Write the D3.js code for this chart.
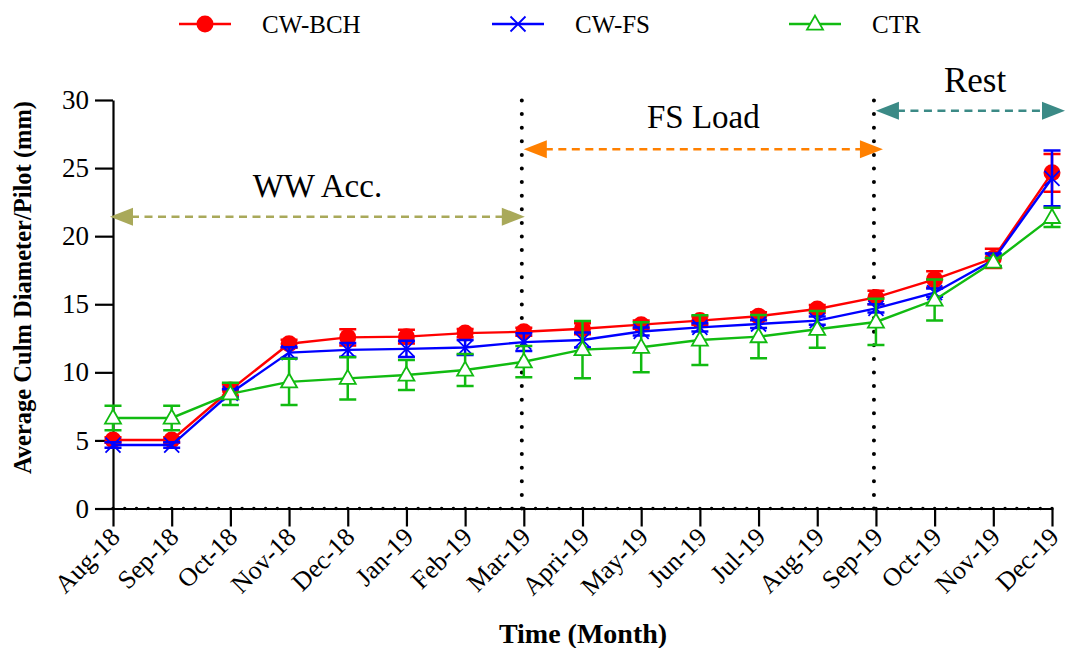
<!DOCTYPE html>
<html>
<head>
<meta charset="utf-8">
<script src="https://cdn.jsdelivr.net/npm/d3@7"></script>
<style>
  html, body { margin: 0; padding: 0; background: #fff; }
  svg { display: block; }
  svg text { font-family: "Liberation Serif", "Times New Roman", Tinos, "Nimbus Roman", "DejaVu Serif", serif; }
</style>
</head>
<body>
<svg id="chart" width="1065" height="648"></svg>
<script>
// Monthly sampling dates
const months = ["Aug-18","Sep-18","Oct-18","Nov-18","Dec-18","Jan-19","Feb-19","Mar-19",
  "Apri-19","May-19","Jun-19","Jul-19","Aug-19","Sep-19","Oct-19","Nov-19","Dec-19"];

// Average culm diameter per pilot (mm) and standard deviation
const cwBch    = [5.03, 5.03, 8.70, 12.10, 12.57, 12.62, 12.88, 12.98, 13.20, 13.50, 13.80, 14.12, 14.65, 15.50, 16.83, 18.37, 24.65];
const cwBchErr = [0.20, 0.20, 0.40, 0.30, 0.60, 0.50, 0.30, 0.30, 0.40, 0.30, 0.30, 0.30, 0.30, 0.50, 0.60, 0.70, 1.38];
const cwFs     = [4.66, 4.66, 8.46, 11.45, 11.65, 11.72, 11.82, 12.22, 12.37, 13.00, 13.30, 13.55, 13.80, 14.70, 15.85, 18.25, 24.25];
const cwFsErr  = [0.20, 0.20, 0.30, 0.40, 0.50, 0.60, 0.55, 0.65, 0.55, 0.30, 0.30, 0.30, 0.30, 0.30, 0.30, 0.47, 2.05];
const ctr      = [6.65, 6.65, 8.42, 9.30, 9.56, 9.80, 10.17, 10.78, 11.67, 11.84, 12.37, 12.62, 13.16, 13.70, 15.31, 18.10, 21.38];
const ctrErr   = [0.90, 0.90, 0.82, 1.70, 1.55, 1.10, 1.17, 1.15, 2.10, 1.84, 1.83, 1.59, 1.35, 1.70, 1.50, 0.30, 0.70];

const yTicks = [0, 5, 10, 15, 20, 25, 30];

// Experimental phases: start/end month, arrow level and label level (mm units)
const phaseNames  = ["WW Acc.", "FS Load", "Rest"];
const phaseStart  = ["Aug-18", "Mar-19", "Sep-19"];
const phaseEnd    = ["Mar-19", "Sep-19", null];
const phaseArrowY = [21.43, 26.38, 29.21];
const phaseLabelY = [22.9, 27.92, 30.6];
const phaseColors = ["#a9a95a", "#ff8000", "#3b8a86"];
const phaseBounds = ["Mar-19", "Sep-19"];

const W = 1065, H = 648;
const svg = d3.select("#chart");

const x = d3.scalePoint().domain(months).range([113, 1052]);
const y = d3.scaleLinear().domain([0, 30]).range([508.5, 100]);

const series = [
  { name: "CW-BCH", values: cwBch, err: cwBchErr, color: "#ff0000", symbol: "circle" },
  { name: "CW-FS",  values: cwFs,  err: cwFsErr,  color: "#0000ff", symbol: "cross" },
  { name: "CTR",    values: ctr,   err: ctrErr,   color: "#11bb11", symbol: "triangle" }
];

// Phase boundaries (dotted verticals)
svg.append("g").selectAll("line").data(phaseBounds).join("line")
  .attr("x1", d => x(d) - 2).attr("x2", d => x(d) - 2)
  .attr("y1", y(0)).attr("y2", y(30))
  .attr("stroke", "#000").attr("stroke-width", 4)
  .attr("stroke-linecap", "round").attr("stroke-dasharray", "0,13.6");

// Axes
const yAxis = svg.append("g").attr("transform", `translate(${x(months[0])},0)`)
  .call(d3.axisLeft(y).tickValues(yTicks).tickSize(18).tickSizeOuter(0).tickPadding(6));
yAxis.attr("font-family", null);
yAxis.selectAll("text").attr("font-size", 27).attr("fill", "#000");
yAxis.selectAll("line, path").attr("stroke", "#000").attr("stroke-width", 2.2);

const xAxis = svg.append("g").attr("transform", `translate(0,${y(0)})`)
  .call(d3.axisBottom(x).tickSize(18).tickSizeOuter(0));
xAxis.attr("font-family", null);
xAxis.select(".domain").attr("stroke", "#000").attr("stroke-width", 2.2);
xAxis.selectAll("line").attr("stroke", "#000").attr("stroke-width", 2.2);
xAxis.selectAll("text")
  .attr("font-size", 26).attr("fill", "#000")
  .attr("text-anchor", "end").attr("dy", null)
  .attr("transform", "translate(8,30) rotate(-45)")
  .attr("y", 0).attr("x", 0);

// Minor dots along the zero line
const step = (x(months[1]) - x(months[0])) / 5;
svg.append("line")
  .attr("x1", x(months[0])).attr("x2", x(months[months.length - 1]) + 1)
  .attr("y1", y(0)).attr("y2", y(0))
  .attr("stroke", "#000").attr("stroke-width", 3.5)
  .attr("stroke-linecap", "round").attr("stroke-dasharray", `0,${step}`);

// Series: lines, error bars, markers
const line = d3.line().x((d, i) => x(months[i])).y(d => y(d));
const capW = 8.5;

function drawMarker(g, s, cx, cy) {
  if (s.symbol === "circle") {
    g.append("circle").attr("cx", cx).attr("cy", cy).attr("r", 8.5).attr("fill", s.color);
  } else if (s.symbol === "cross") {
    const r = 7.5;
    g.append("path").attr("d", `M${cx - r},${cy - r}L${cx + r},${cy + r}M${cx - r},${cy + r}L${cx + r},${cy - r}`)
      .attr("stroke", s.color).attr("stroke-width", 1.8).attr("fill", "none");
  } else {
    const h = 14, w = 8;
    g.append("path").attr("d", `M${cx},${cy - h * 0.6}L${cx + w},${cy + h * 0.4}L${cx - w},${cy + h * 0.4}Z`)
      .attr("stroke", s.color).attr("stroke-width", 1.8).attr("fill", "#fff");
  }
}

series.forEach(s => {
  const g = svg.append("g");
  g.append("path").datum(s.values).attr("d", line)
    .attr("fill", "none").attr("stroke", s.color).attr("stroke-width", 2.4);
  s.values.forEach((v, i) => {
    const cx = x(months[i]);
    const top = y(v + s.err[i]), bot = y(v - s.err[i]);
    g.append("path")
      .attr("d", `M${cx},${top}L${cx},${bot}M${cx - capW},${top}L${cx + capW},${top}M${cx - capW},${bot}L${cx + capW},${bot}`)
      .attr("stroke", s.color).attr("stroke-width", 2.5).attr("fill", "none");
  });
  s.values.forEach((v, i) => drawMarker(g, s, x(months[i]), y(v)));
});

// Phase arrows and labels
phaseNames.forEach((name, i) => {
  const x0 = x(phaseStart[i]) - (i === 0 ? 3 : 0);
  const x1 = phaseEnd[i] ? x(phaseEnd[i]) + (i === 0 ? 1 : 7) : W;
  const ay = y(phaseArrowY[i]);
  const c = phaseColors[i];
  const L = 23, hh = 9;
  const g = svg.append("g");
  g.append("line").attr("x1", x0 + L - 2).attr("x2", x1 - L + 2).attr("y1", ay).attr("y2", ay)
    .attr("stroke", c).attr("stroke-width", 2.6).attr("stroke-dasharray", "8,5.5");
  g.append("path").attr("d", `M${x0},${ay}L${x0 + L},${ay - hh}L${x0 + L},${ay + hh}Z`).attr("fill", c);
  g.append("path").attr("d", `M${x1},${ay}L${x1 - L},${ay - hh}L${x1 - L},${ay + hh}Z`).attr("fill", c);
  const cxText = i === 2 ? 975 : (x0 + x1) / 2;
  g.append("text").attr("x", cxText).attr("y", y(phaseLabelY[i]))
    .attr("text-anchor", "middle").attr("font-size", i === 2 ? 35 : 33).attr("fill", "#000")
    .text(name);
});

// Axis titles
svg.append("text").attr("x", 583).attr("y", 643).attr("text-anchor", "middle")
  .attr("font-size", 28).attr("font-weight", "bold").text("Time (Month)");
svg.append("text").attr("transform", `translate(31,${(100 + 475) / 2}) rotate(-90)`)
  .attr("text-anchor", "middle").attr("font-size", 24.5).attr("font-weight", "bold")
  .text("Average Culm Diameter/Pilot (mm)");

// Legend
const legendX = [205, 518, 815];
series.forEach((s, i) => {
  const g = svg.append("g");
  const cx = legendX[i], cy = 24;
  g.append("line").attr("x1", cx - 26).attr("x2", cx + 26).attr("y1", cy).attr("y2", cy)
    .attr("stroke", s.color).attr("stroke-width", 2.4);
  drawMarker(g, s, cx, cy);
  g.append("text").attr("x", cx + 57).attr("y", cy + 9).attr("font-size", 25).text(s.name);
});
</script>
</body>
</html>
